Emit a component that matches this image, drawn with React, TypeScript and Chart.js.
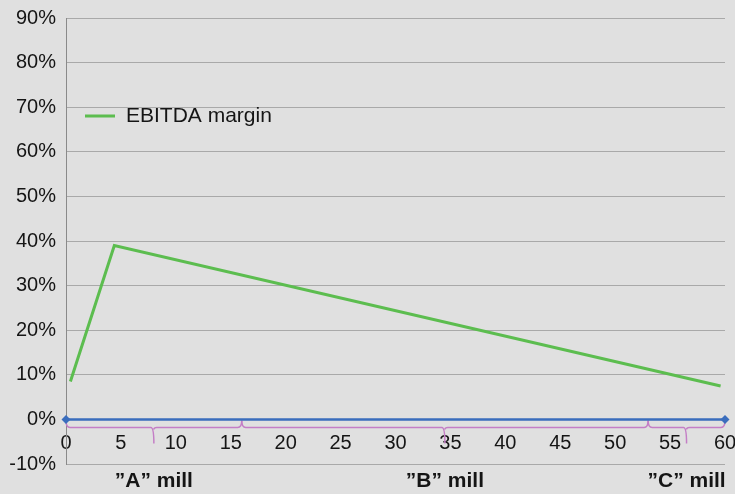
import React, { useEffect, useRef } from 'react';
import { Chart, registerables } from 'chart.js';
Chart.register(...registerables);

// ---- data ----
const seriesName = 'EBITDA margin';
const marginX = [0.4, 4.4, 59.6];
const marginY = [8.5, 39, 7.5];
const baseX = [0, 60];
const baseY = [0, 0];
const millNames = ['”A” mill', '”B” mill', '”C” mill'];
const millStart = [0, 16, 53];
const millEnd = [16, 53, 60];
const yMin = -10;
const yMax = 90;
const yStep = 10;
const xMin = 0;
const xMax = 60;
const xStep = 5;

const FONT = '"Liberation Sans", Arial, Helvetica, sans-serif';
const BG = '#e0e0e0';
const GREEN = '#5cbd4f';
const BLUE = '#3a6dbd';
const PINK = '#c47ec6';
const TEXT = '#151515';

const decor = {
  id: 'decor',
  beforeDraw(chart: any) {
    const ctx = chart.ctx;
    ctx.save();
    ctx.fillStyle = BG;
    ctx.fillRect(0, 0, chart.width, chart.height);
    ctx.restore();
  },
  beforeDatasetsDraw(chart: any) {
    const ctx = chart.ctx;
    const xs = chart.scales.x;
    const ys = chart.scales.y;
    const y0 = ys.getPixelForValue(0);
    const yt = y0 + 1;
    const yb = y0 + 8;
    const yd = y0 + 24;
    ctx.save();
    ctx.strokeStyle = PINK;
    ctx.lineWidth = 1.5;
    for (let i = 0; i < millStart.length; i++) {
      const a = xs.getPixelForValue(millStart[i]);
      const b = xs.getPixelForValue(millEnd[i]);
      const m = (a + b) / 2;
      ctx.beginPath();
      ctx.moveTo(a, yt);
      ctx.quadraticCurveTo(a, yb, a + 4, yb);
      ctx.lineTo(m - 3, yb);
      ctx.quadraticCurveTo(m, yb, m, yd);
      ctx.moveTo(m, yb + 2);
      ctx.quadraticCurveTo(m, yb, m + 3, yb);
      ctx.lineTo(b - 4, yb);
      ctx.quadraticCurveTo(b, yb, b, yt);
      ctx.stroke();
    }
    ctx.restore();
  },
  afterDatasetsDraw(chart: any) {
    const ctx = chart.ctx;
    const ca = chart.chartArea;
    const xs = chart.scales.x;
    ctx.save();
    // legend
    const ly = ca.top + 98;
    ctx.strokeStyle = GREEN;
    ctx.lineWidth = 3;
    ctx.beginPath();
    ctx.moveTo(ca.left + 19, ly);
    ctx.lineTo(ca.left + 49, ly);
    ctx.stroke();
    ctx.fillStyle = TEXT;
    ctx.font = `21px ${FONT}`;
    ctx.textBaseline = 'middle';
    ctx.textAlign = 'left';
    ctx.fillText(seriesName, ca.left + 60, ly);
    // mill labels
    ctx.font = `bold 21px ${FONT}`;
    ctx.textAlign = 'center';
    for (let i = 0; i < millNames.length; i++) {
      const m = (xs.getPixelForValue(millStart[i]) + xs.getPixelForValue(millEnd[i])) / 2;
      ctx.fillText(millNames[i], m, ca.bottom + 17);
    }
    ctx.restore();
  },
};

export default function App() {
  const ref = useRef<HTMLCanvasElement | null>(null);
  useEffect(() => {
    document.body.style.margin = '0';
    document.body.style.background = BG;
    const canvas = ref.current!;
    const chart = new Chart(canvas, {
      type: 'line',
      data: {
        datasets: [
          {
            label: 'baseline',
            data: baseX.map((x, i) => ({ x, y: baseY[i] })),
            borderColor: BLUE,
            backgroundColor: BLUE,
            borderWidth: 2.5,
            pointStyle: 'rectRot',
            pointRadius: 4.5,
            pointBorderWidth: 0,
            clip: false,
            order: 1,
          },
          {
            label: seriesName,
            data: marginX.map((x, i) => ({ x, y: marginY[i] })),
            borderColor: GREEN,
            backgroundColor: GREEN,
            borderWidth: 3,
            pointRadius: 0,
            tension: 0,
            order: 0,
          },
        ],
      },
      options: {
        animation: false,
        responsive: false,
        maintainAspectRatio: false,
        layout: { padding: { top: 18, bottom: 30, right: 10, left: 0 } },
        plugins: { legend: { display: false }, tooltip: { enabled: false } },
        scales: {
          x: {
            type: 'linear',
            position: { y: 0 } as any,
            min: xMin,
            max: xMax,
            grid: { display: false, drawTicks: false },
            border: { display: false },
            afterFit: (s: any) => { s.paddingLeft = 0; s.paddingRight = 0; },
            ticks: {
              stepSize: xStep,
              padding: 12,
              maxRotation: 0,
              color: TEXT,
              font: { family: FONT, size: 20 },
            },
          },
          y: {
            type: 'linear',
            min: yMin,
            max: yMax,
            grid: { color: '#a9a9a9', lineWidth: 1, drawTicks: false },
            border: { display: true, color: '#8a8a8a', width: 1 },
            afterFit: (s: any) => { s.width = 66; s.paddingTop = 0; s.paddingBottom = 0; },
            ticks: {
              stepSize: yStep,
              padding: 10,
              color: TEXT,
              font: { family: FONT, size: 20 },
              callback: (v: any) => `${v}%`,
            },
          },
        },
      },
      plugins: [decor],
    });
    return () => chart.destroy();
  }, []);
  return <canvas ref={ref} width={735} height={494} style={{ display: 'block' }} />;
}
